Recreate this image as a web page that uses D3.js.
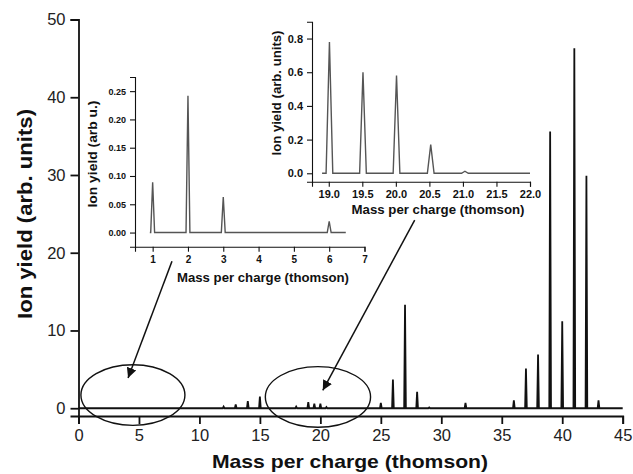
<!DOCTYPE html>
<html>
<head>
<meta charset="utf-8">
<script src="https://cdn.jsdelivr.net/npm/d3@7"></script>
<style>
  html, body { margin: 0; padding: 0; background: #fff; }
  svg { display: block; font-family: "Liberation Sans", Arial, sans-serif; }
</style>
</head>
<body>
<svg id="chart" width="633" height="474"></svg>
<script>
// Full mass spectrum: peak positions (thomson) and ion yields (arb. units)
const mainMass  = [12, 13, 14, 15, 18, 19, 19.5, 20, 20.5, 25, 26, 27, 28, 29, 32, 36, 37, 38, 39, 40, 41, 42, 43];
const mainYield = [0.2, 0.5, 0.9, 1.5, 0.2, 0.8, 0.6, 0.6, 0.15, 0.7, 3.7, 13.3, 2.1, 0.1, 0.7, 1.0, 5.1, 6.9, 35.6, 11.2, 46.3, 29.9, 1.0];
const mainXTicks = [0, 5, 10, 15, 20, 25, 30, 35, 40, 45];
const mainYTicks = [0, 10, 20, 30, 40, 50];

// Low-mass detail (1–7 thomson)
const lowMass  = [1, 2, 3, 6];
const lowYield = [0.089, 0.242, 0.063, 0.02];
const lowXTicks = [1, 2, 3, 4, 5, 6, 7];
const lowYTicks = [0, 0.05, 0.10, 0.15, 0.20, 0.25];

// Doubly charged region detail (19–22 thomson)
const midMass  = [19.01, 19.51, 20.01, 20.52, 21.03];
const midYield = [0.78, 0.60, 0.58, 0.17, 0.012];
const midXTicks = [19.0, 19.5, 20.0, 20.5, 21.0, 21.5, 22.0];
const midYTicks = [0, 0.2, 0.4, 0.6, 0.8];

const svg = d3.select("#chart");
const ink = "#111";

// Build a spectrum trace: flat baseline with a narrow spike at each peak
function trace(masses, yields, x0, x1, halfWidth) {
  const pts = [[x0, 0]];
  masses.forEach((m, i) => {
    pts.push([m - halfWidth, 0], [m, yields[i]], [m + halfWidth, 0]);
  });
  pts.push([x1, 0]);
  return pts;
}

function drawAxes(g, x, y, opt) {
  const xa = d3.axisBottom(x).tickValues(opt.xTicks).tickSizeOuter(0).tickSize(opt.major).tickPadding(opt.pad)
    .tickFormat(opt.xFmt);
  const ya = d3.axisLeft(y).tickValues(opt.yTicks).tickSizeOuter(0).tickSize(opt.major).tickPadding(opt.pad)
    .tickFormat(opt.yFmt);
  const xMinor = d3.axisBottom(x).tickValues(opt.xMinor).tickSize(opt.minor).tickSizeOuter(0).tickFormat("");
  const yMinor = d3.axisLeft(y).tickValues(opt.yMinor).tickSize(opt.minor).tickSizeOuter(0).tickFormat("");

  const gx = g.append("g").attr("transform", `translate(0,${y.range()[0]})`);
  gx.call(xMinor); gx.call(xa);
  const gy = g.append("g").attr("transform", `translate(${x.range()[0]},0)`);
  gy.call(yMinor); gy.call(ya);
  [gx, gy].forEach(a => {
    a.selectAll("path.domain").attr("stroke", ink).attr("stroke-width", opt.axisW);
    a.selectAll(".tick line").attr("stroke", ink).attr("stroke-width", opt.axisW);
    a.selectAll(".tick text").attr("fill", ink).attr("font-size", opt.font)
      .attr("font-weight", opt.fontWeight).attr("font-family", "Liberation Sans, Arial, sans-serif");
  });
  gy.selectAll(".tick text").attr("font-size", opt.yFont || opt.font);
  return { gx, gy };
}

// ---------- Main spectrum ----------
const x = d3.scaleLinear().domain([0, 45]).range([78.5, 622.7]);
const y = d3.scaleLinear().domain([-1, 50]).range([416, 19.5]);
const main = svg.append("g");

drawAxes(main, x, y, {
  xTicks: mainXTicks, yTicks: mainYTicks,
  xMinor: d3.range(0, 46, 1), yMinor: d3.range(0, 51, 5),
  major: 8, minor: 4, pad: 5, axisW: 1.8, font: 16.5, fontWeight: "normal",
  xFmt: d3.format("d"), yFmt: d3.format("d")
});
main.selectAll(".tick text").attr("fill", "#222");

const line = (sx, sy) => d3.line().x(d => sx(d[0])).y(d => sy(d[1]));
main.append("path")
  .datum(trace(mainMass, mainYield, 0, 45, 0.07))
  .attr("d", line(x, y))
  .attr("fill", "none").attr("stroke", ink).attr("stroke-width", 1.8).attr("stroke-linejoin", "miter");

main.append("text")
  .attr("x", 350).attr("y", 468).attr("text-anchor", "middle")
  .attr("font-size", 19).attr("font-weight", "bold").attr("fill", ink)
  .attr("textLength", 276).attr("lengthAdjust", "spacingAndGlyphs")
  .text("Mass per charge (thomson)");
main.append("text")
  .attr("transform", "translate(32,214) rotate(-90)").attr("text-anchor", "middle")
  .attr("font-size", 20).attr("font-weight", "bold").attr("fill", ink)
  .attr("textLength", 210).attr("lengthAdjust", "spacingAndGlyphs")
  .text("Ion yield (arb. units)");

// ---------- Low-mass inset ----------
const x1 = d3.scaleLinear().domain([0.5, 7]).range([135, 364.5]);
const y1 = d3.scaleLinear().domain([-0.025, 0.275]).range([246.7, 77]);
const ins1 = svg.append("g");
drawAxes(ins1, x1, y1, {
  xTicks: lowXTicks, yTicks: lowYTicks,
  xMinor: d3.range(0.5, 7.01, 0.5), yMinor: d3.range(0, 0.2751, 0.025),
  major: 5, minor: 3, pad: 4, axisW: 1.1, font: 10, yFont: 9, fontWeight: "bold",
  xFmt: d3.format("d"), yFmt: d3.format(".2f")
});
ins1.append("path")
  .datum(trace(lowMass, lowYield, 0.92, 6.47, 0.055))
  .attr("d", line(x1, y1))
  .attr("fill", "none").attr("stroke", "#555").attr("stroke-width", 1.4);
ins1.append("text")
  .attr("x", 263).attr("y", 282).attr("text-anchor", "middle")
  .attr("font-size", 13).attr("font-weight", "bold").attr("fill", ink)
  .attr("textLength", 172).attr("lengthAdjust", "spacingAndGlyphs")
  .text("Mass per charge (thomson)");
ins1.append("text")
  .attr("transform", "translate(97,154) rotate(-90)").attr("text-anchor", "middle")
  .attr("font-size", 13).attr("font-weight", "bold").attr("fill", ink)
  .attr("textLength", 107).attr("lengthAdjust", "spacingAndGlyphs")
  .text("Ion yield (arb u.)");

// ---------- Doubly charged inset ----------
const x2 = d3.scaleLinear().domain([18.75, 22]).range([312, 530]);
const y2 = d3.scaleLinear().domain([-0.05, 0.9]).range([181.7, 21.7]);
const ins2 = svg.append("g");
drawAxes(ins2, x2, y2, {
  xTicks: midXTicks, yTicks: midYTicks,
  xMinor: d3.range(18.75, 22.01, 0.25), yMinor: d3.range(0, 0.901, 0.1),
  major: 5, minor: 3, pad: 4, axisW: 1.1, font: 11, fontWeight: "bold",
  xFmt: d3.format(".1f"), yFmt: d3.format(".1f")
});
ins2.append("path")
  .datum(trace(midMass, midYield, 18.9, 22.0, 0.05))
  .attr("d", line(x2, y2))
  .attr("fill", "none").attr("stroke", "#555").attr("stroke-width", 1.4);
ins2.append("text")
  .attr("x", 438).attr("y", 214).attr("text-anchor", "middle")
  .attr("font-size", 13).attr("font-weight", "bold").attr("fill", ink)
  .attr("textLength", 173).attr("lengthAdjust", "spacingAndGlyphs")
  .text("Mass per charge (thomson)");
ins2.append("text")
  .attr("transform", "translate(281,93) rotate(-90)").attr("text-anchor", "middle")
  .attr("font-size", 13).attr("font-weight", "bold").attr("fill", ink)
  .attr("textLength", 125).attr("lengthAdjust", "spacingAndGlyphs")
  .text("Ion yield (arb. units)");

// ---------- Annotations: regions circled and pointed to their insets ----------
const regions = [
  { cx: 4.5, cy: 1.7, rx: 4.3, ry: 3.9, from: [7.73, 18.9], to: [4.1, 3.9] },
  { cx: 19.8, cy: 1.45, rx: 4.35, ry: 3.9, from: [27.8, 24.2], to: [20.2, 2.3] }
];
const defs = svg.append("defs");
defs.append("marker").attr("id", "head")
  .attr("viewBox", "0 0 10 10").attr("refX", 10).attr("refY", 5)
  .attr("markerWidth", 10).attr("markerHeight", 10).attr("markerUnits", "userSpaceOnUse")
  .attr("orient", "auto")
  .append("path").attr("d", "M0,0 L10,5 L0,10 Z").attr("fill", ink);

const ann = svg.append("g");
ann.selectAll("ellipse").data(regions).join("ellipse")
  .attr("cx", d => x(d.cx)).attr("cy", d => y(d.cy))
  .attr("rx", d => x(d.rx) - x(0)).attr("ry", d => y(0) - y(d.ry))
  .attr("fill", "none").attr("stroke", ink).attr("stroke-width", 1.4);
ann.selectAll("line").data(regions).join("line")
  .attr("x1", d => x(d.from[0])).attr("y1", d => y(d.from[1]))
  .attr("x2", d => x(d.to[0])).attr("y2", d => y(d.to[1]))
  .attr("stroke", ink).attr("stroke-width", 1.5).attr("marker-end", "url(#head)");
</script>
</body>
</html>
